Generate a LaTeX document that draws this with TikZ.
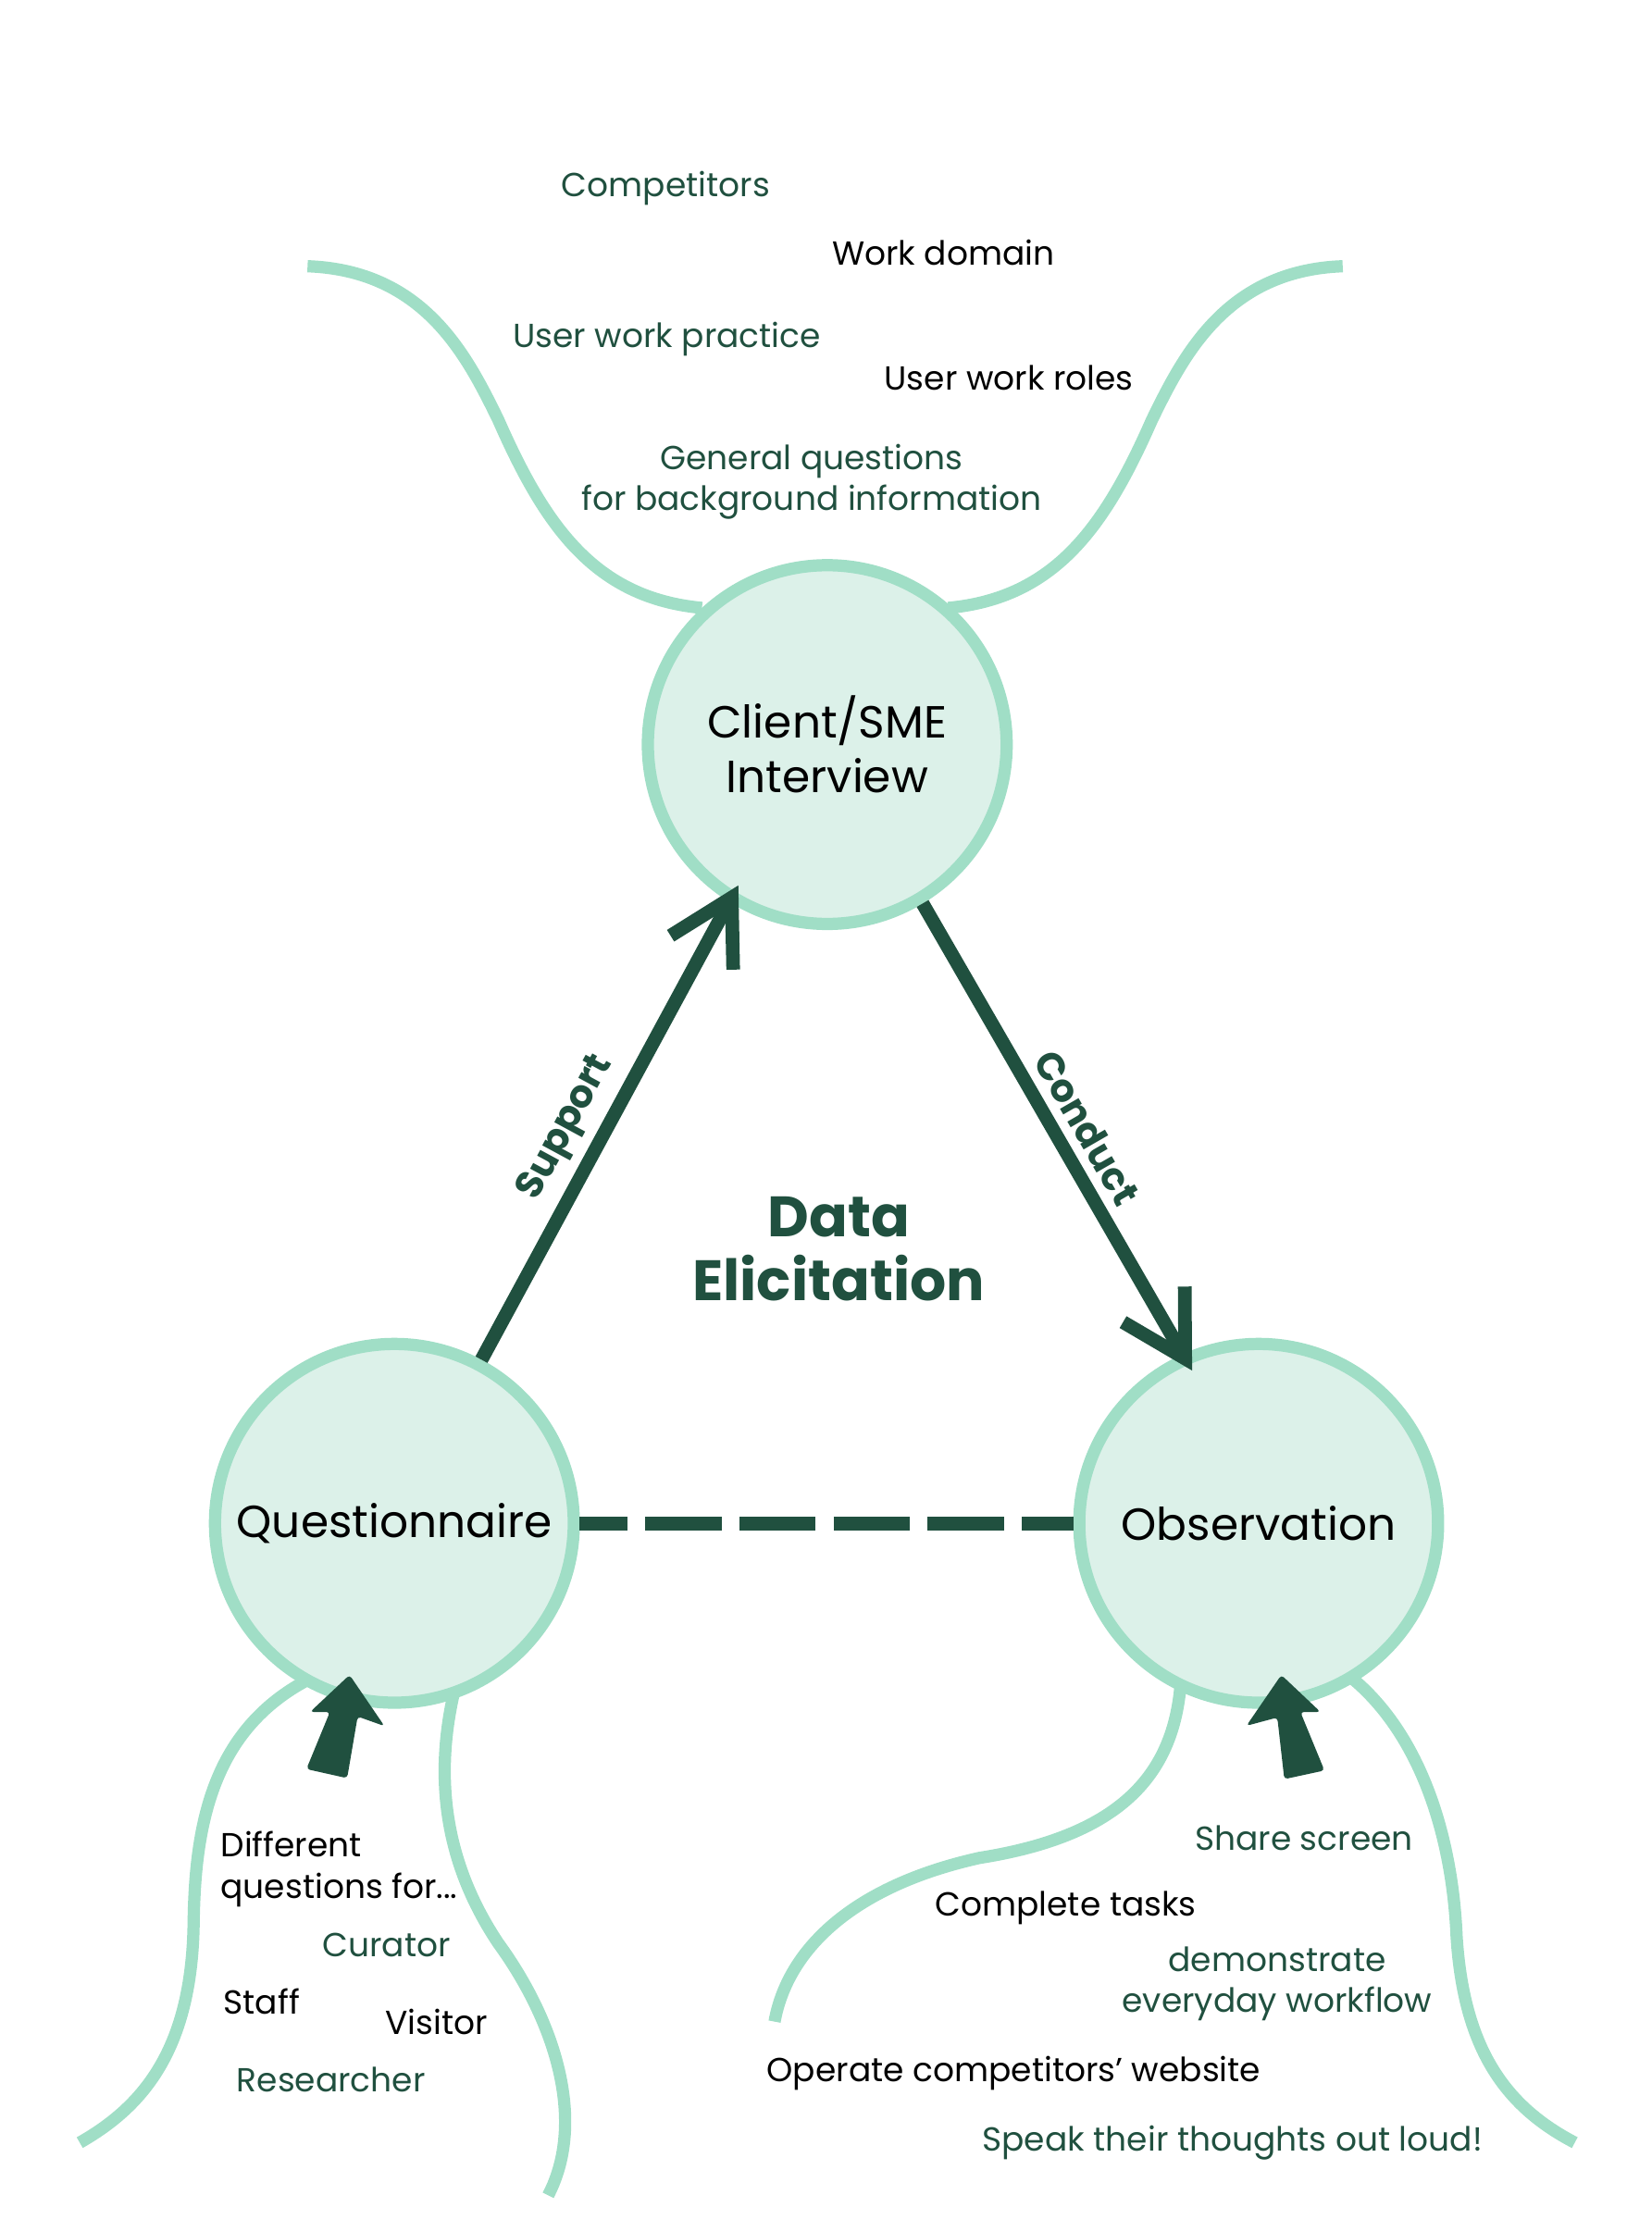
\documentclass[tikz,border=0pt]{standalone}
\usepackage{fontspec}
\setmainfont{Poppins}
\usetikzlibrary{arrows.meta}
\definecolor{darkgreen}{HTML}{20503F}
\definecolor{mint}{HTML}{A0DEC6}
\definecolor{mintfill}{HTML}{DCF1E9}

\begin{document}
\begin{tikzpicture}[x=0.5pt, y=-0.5pt,
  method/.style={circle, draw=mint, fill=mintfill, line width=4.3pt, minimum size=126pt,
    inner sep=0pt, outer sep=0pt, align=center, font=\fontsize{15.8}{19.3}\selectfont},
  branch/.style={draw=mint, line width=4.3pt},
  link/.style={draw=darkgreen, line width=4.8pt, shorten <=2.1pt, shorten >=-4.5pt,
    -{Straight Barb[length=22pt, width=25pt]}},
  linklabel/.style={text=darkgreen, font=\bfseries\fontsize{13.5}{16}\selectfont},
  dashlink/.style={draw=darkgreen, line width=4.8pt, shorten <=2.1pt, shorten >=2.1pt,
    dash pattern=on 26.75pt off 6.3pt, dash phase=10pt},
  topic/.style={align=center, font=\fontsize{11.7}{14.5}\selectfont},
  topicgreen/.style={topic, text=darkgreen},
  pointer/.style={fill=darkgreen, rounded corners=1.2pt},
]
\useasboundingbox (0,0) rectangle (1160.2,1567.8);

\draw[branch] (216,187) .. controls (298,190) and (328,250) .. (350,295)
  .. controls (383,370) and (418,420) .. (493,427);
\draw[branch] (943,187) .. controls (861,190) and (831,250) .. (809,295)
  .. controls (776,370) and (741,420) .. (666,427);
\draw[branch] (216,1180) .. controls (150,1215) and (137,1280) .. (136,1350)
  .. controls (135,1440) and (100,1480) .. (56,1505);
\draw[branch] (321,1180) .. controls (300,1260) and (320,1320) .. (350,1365)
  .. controls (390,1420) and (412,1490) .. (385,1542);
\draw[branch] (829,1185) .. controls (823,1250) and (783,1290) .. (688,1305)
  .. controls (598,1325) and (553,1370) .. (544,1420);
\draw[branch] (951,1180) .. controls (998,1220) and (1020,1290) .. (1023,1360)
  .. controls (1028,1440) and (1058,1480) .. (1106,1505);

\node[method] (interview) at (581,523) {Client/SME\\Interview};
\node[method] (questionnaire) at (277,1070) {Questionnaire};
\node[method] (observation) at (884,1070) {Observation};

\draw[link] (questionnaire.62) -- node[sloped, above, pos=0.47, linklabel] {Support} (interview.238);
\draw[link] (interview.301.6) -- node[sloped, above, pos=0.53, linklabel] {Conduct} (observation.114);
\draw[dashlink] (questionnaire) -- (observation);

\node[text=darkgreen, align=center, font=\bfseries\fontsize{20}{22.5}\selectfont] (title) at (589,877.5) {Data\\Elicitation};

\fill[pointer] (245.5,1176.5) -- (270,1212.4) -- (251.2,1205.7) -- (243.8,1249)
  -- (215.2,1242.6) -- (231.7,1202.5) -- (217.8,1202.5) -- cycle;
\fill[pointer] (899.9,1176.5) -- (927.4,1202.5) -- (913.3,1202.5) -- (930.2,1243.6)
  -- (902,1249.7) -- (897.1,1206.4) -- (875.4,1212.2) -- cycle;

\node[topicgreen] (competitors) at (467.6,132) {Competitors};
\node[topic] (domain) at (662.6,177.5) {Work domain};
\node[topicgreen] (practice) at (468.4,238) {User work practice};
\node[topic] (roles) at (708.6,265.5) {User work roles};
\node[topicgreen] (general) at (570,338.5) {General questions\\for background information};

\node[topic, align=left, anchor=west] (different) at (148,1313) {Different\\questions for...};
\node[topicgreen] (curator) at (271.5,1366) {Curator};
\node[topic] (staff) at (183.8,1406) {Staff};
\node[topic] (visitor) at (306.5,1420) {Visitor};
\node[topicgreen] (researcher) at (232.5,1461) {Researcher};

\node[topicgreen] (share) at (915.8,1291) {Share screen};
\node[topic] (tasks) at (748.5,1340) {Complete tasks};
\node[topicgreen] (workflow) at (897,1393.5) {demonstrate\\everyday workflow};
\node[topic] (operate) at (712,1456) {Operate competitors’ website};
\node[topicgreen] (speak) at (865.6,1505) {Speak their thoughts out loud!};
\end{tikzpicture}
\end{document}
